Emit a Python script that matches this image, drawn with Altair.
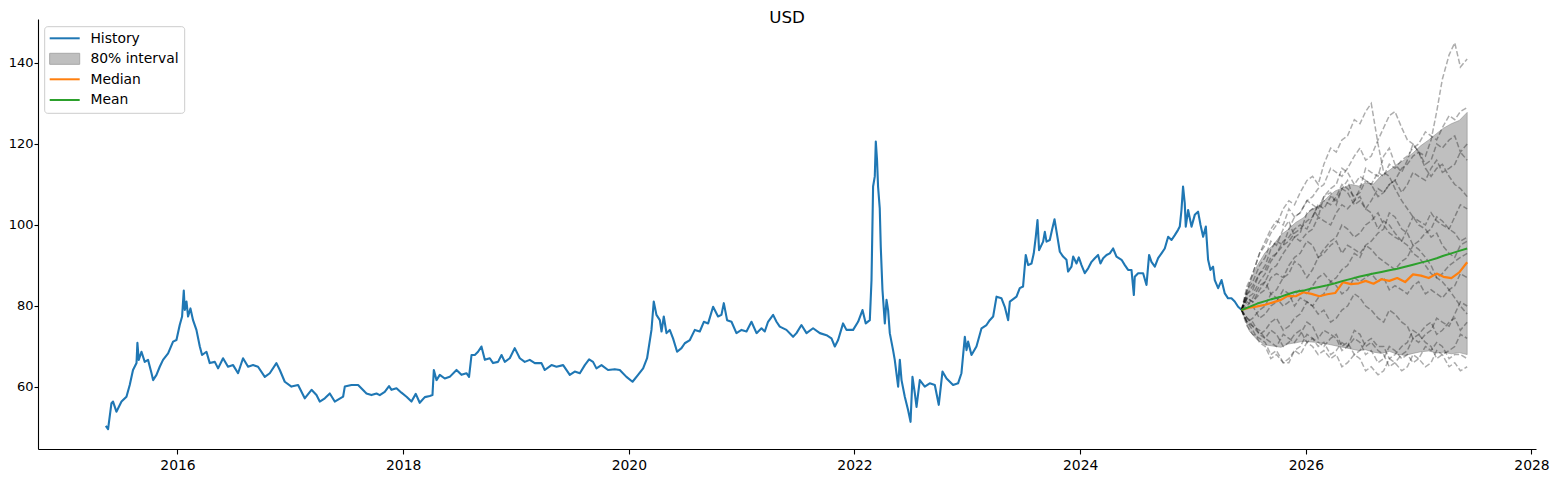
import altair as alt
import pandas as pd

# ---------------- data ----------------
hist_2015 = [(2015.365, 50.4), (2015.385, 49.6), (2015.415, 56.0), (2015.429, 56.4), (2015.459, 53.9),
             (2015.504, 56.4), (2015.548, 57.6), (2015.577, 60.5), (2015.606, 64.2), (2015.637, 65.9),
             (2015.645, 70.9), (2015.657, 66.7), (2015.681, 68.7), (2015.710, 66.2), (2015.739, 66.7),
             (2015.770, 63.4), (2015.784, 61.7), (2015.814, 63.0), (2015.843, 65.0), (2015.872, 66.7),
             (2015.917, 68.3), (2015.961, 71.2), (2015.991, 71.6)]
hist_2016 = [(2016.020, 75.3), (2016.041, 77.4), (2016.056, 83.8), (2016.065, 79.0), (2016.080, 81.1),
             (2016.094, 77.4), (2016.115, 79.4), (2016.138, 76.5), (2016.168, 74.1), (2016.198, 70.0),
             (2016.218, 67.9), (2016.257, 68.7), (2016.286, 65.9), (2016.331, 66.2), (2016.360, 64.6),
             (2016.404, 67.1), (2016.448, 65.0), (2016.493, 65.4), (2016.537, 63.4), (2016.581, 67.1),
             (2016.626, 65.0), (2016.670, 65.4), (2016.714, 65.0), (2016.774, 62.5), (2016.818, 63.4),
             (2016.877, 65.9), (2016.907, 64.2), (2016.951, 61.3)]
hist_2017 = [(2017.010, 60.1), (2017.069, 60.5), (2017.128, 57.2), (2017.188, 59.3), (2017.232, 58.0),
             (2017.261, 56.4), (2017.306, 57.2), (2017.350, 58.4), (2017.394, 56.4), (2017.468, 57.6),
             (2017.483, 60.1), (2017.542, 60.5), (2017.601, 60.5), (2017.660, 58.8), (2017.675, 58.4),
             (2017.719, 58.0), (2017.764, 58.4), (2017.793, 58.0), (2017.837, 58.8), (2017.875, 60.2),
             (2017.897, 59.3), (2017.941, 59.7), (2017.985, 58.6)]
hist_2018 = [(2018.030, 57.6), (2018.074, 56.4), (2018.112, 58.3), (2018.147, 56.1), (2018.192, 57.5),
             (2018.236, 57.8), (2018.260, 58.0), (2018.272, 64.2), (2018.296, 61.7), (2018.325, 63.0),
             (2018.369, 62.1), (2018.413, 62.5), (2018.473, 64.2), (2018.517, 63.0), (2018.561, 63.4),
             (2018.584, 62.5), (2018.606, 67.9), (2018.635, 67.9), (2018.664, 68.7), (2018.694, 70.0),
             (2018.724, 66.7), (2018.768, 67.1), (2018.797, 65.9), (2018.841, 66.2), (2018.872, 67.9),
             (2018.901, 66.2), (2018.945, 67.1), (2018.989, 69.6)]
hist_2019 = [(2019.034, 67.1), (2019.078, 66.2), (2019.122, 66.7), (2019.167, 65.9), (2019.226, 65.9),
             (2019.255, 64.2), (2019.315, 65.4), (2019.359, 65.0), (2019.418, 65.4), (2019.477, 63.0),
             (2019.521, 63.8), (2019.566, 63.4), (2019.610, 65.4), (2019.648, 66.8), (2019.683, 66.2),
             (2019.713, 64.6), (2019.758, 65.4), (2019.816, 64.2), (2019.876, 64.4), (2019.920, 64.2),
             (2019.979, 62.5)]
hist_2020 = [(2020.033, 61.3), (2020.082, 63.0), (2020.127, 64.6), (2020.162, 67.1), (2020.201, 74.1),
             (2020.221, 81.1), (2020.245, 77.8), (2020.275, 76.5), (2020.290, 73.7), (2020.310, 77.4),
             (2020.334, 73.3), (2020.363, 74.1), (2020.392, 72.0), (2020.428, 68.7), (2020.467, 69.6),
             (2020.496, 70.8), (2020.541, 71.6), (2020.585, 74.1), (2020.629, 73.7), (2020.665, 76.1),
             (2020.703, 75.7), (2020.747, 79.8), (2020.791, 77.4), (2020.821, 77.8), (2020.842, 80.7),
             (2020.871, 76.5), (2020.910, 76.1), (2020.954, 73.3)]
hist_2021 = [(2020.999, 74.1), (2021.043, 73.7), (2021.087, 76.1), (2021.132, 73.3), (2021.176, 74.5),
             (2021.205, 73.7), (2021.234, 76.1), (2021.279, 77.8), (2021.309, 76.1), (2021.338, 74.9),
             (2021.397, 74.1), (2021.456, 72.4), (2021.486, 73.3), (2021.530, 75.3), (2021.575, 73.3),
             (2021.633, 74.5), (2021.693, 73.3), (2021.752, 72.8), (2021.796, 72.0), (2021.826, 70.0),
             (2021.855, 71.6), (2021.899, 75.7), (2021.929, 74.1), (2021.988, 74.1)]
hist_2022 = [(2022.032, 76.1), (2022.071, 79.0), (2022.100, 75.7), (2022.136, 76.5), (2022.151, 86.4),
             (2022.165, 109.5), (2022.180, 112.0), (2022.189, 120.6), (2022.200, 116.0), (2022.209, 109.5),
             (2022.224, 104.1), (2022.233, 94.6), (2022.248, 84.0), (2022.269, 75.7), (2022.284, 81.5),
             (2022.298, 79.0), (2022.313, 73.3), (2022.342, 69.1), (2022.357, 66.7), (2022.387, 60.1),
             (2022.402, 66.7), (2022.417, 61.7), (2022.446, 57.6), (2022.475, 54.3), (2022.497, 51.4),
             (2022.514, 62.5), (2022.535, 58.4), (2022.550, 55.1), (2022.579, 61.7), (2022.623, 60.1),
             (2022.667, 60.9), (2022.712, 60.5), (2022.747, 55.6), (2022.780, 63.8), (2022.816, 62.1),
             (2022.874, 60.5), (2022.918, 60.9), (2022.948, 63.4), (2022.978, 72.4), (2022.993, 69.1)]
hist_2023 = [(2023.007, 71.2), (2023.037, 67.9), (2023.081, 70.0), (2023.126, 74.5), (2023.170, 75.3),
             (2023.199, 76.5), (2023.229, 77.4), (2023.259, 82.3), (2023.303, 81.9), (2023.332, 79.8),
             (2023.362, 76.5), (2023.377, 81.1), (2023.436, 82.3), (2023.465, 84.4), (2023.494, 84.8),
             (2023.518, 92.6), (2023.539, 90.1), (2023.569, 90.5), (2023.589, 93.0), (2023.607, 97.1),
             (2023.622, 101.2), (2023.636, 93.8), (2023.672, 95.9), (2023.687, 98.3), (2023.702, 95.9),
             (2023.731, 96.3), (2023.751, 98.8), (2023.773, 101.4), (2023.796, 97.5), (2023.820, 93.4),
             (2023.849, 92.2), (2023.879, 91.4), (2023.893, 88.5), (2023.923, 89.7), (2023.938, 92.2),
             (2023.968, 90.5), (2023.988, 92.0)]
hist_2024 = [(2024.012, 90.1), (2024.041, 88.1), (2024.071, 89.3), (2024.101, 90.9), (2024.130, 91.8),
             (2024.159, 92.6), (2024.180, 90.5), (2024.204, 91.8), (2024.234, 92.6), (2024.263, 93.0),
             (2024.292, 94.2), (2024.322, 92.2), (2024.367, 91.4), (2024.396, 90.1), (2024.425, 88.9),
             (2024.455, 88.9), (2024.476, 82.7), (2024.484, 87.2), (2024.514, 88.1), (2024.558, 88.1),
             (2024.588, 85.2), (2024.611, 92.6), (2024.632, 90.9), (2024.662, 89.7), (2024.691, 91.8),
             (2024.721, 93.0), (2024.750, 94.2), (2024.780, 97.1), (2024.810, 96.3), (2024.839, 97.5),
             (2024.868, 98.8), (2024.883, 99.6), (2024.898, 103.7), (2024.912, 109.5), (2024.927, 105.4),
             (2024.936, 99.6), (2024.957, 103.7), (2024.987, 99.6)]
hist_2025 = [(2025.016, 102.5), (2025.045, 103.3), (2025.067, 100.0), (2025.090, 97.1), (2025.114, 99.6),
             (2025.134, 91.4), (2025.155, 88.9), (2025.178, 89.7), (2025.193, 86.4), (2025.223, 84.4),
             (2025.253, 86.4), (2025.282, 83.1), (2025.311, 81.9), (2025.341, 81.9), (2025.370, 81.1),
             (2025.400, 79.8), (2025.433, 79.0)]

# forecast summary (80% band, median, mean)
fc_t = [2025.43, 2025.50, 2025.57, 2025.64, 2025.71, 2025.78, 2025.84, 2025.91, 2025.98, 2026.05,
        2026.12, 2026.19, 2026.26, 2026.33, 2026.40, 2026.47, 2026.53, 2026.60, 2026.67, 2026.74,
        2026.81, 2026.88, 2026.95, 2027.02, 2027.09, 2027.16, 2027.22, 2027.29, 2027.36, 2027.43]
band_hi = [79.0, 85.5, 90.0, 93.2, 95.0, 97.6, 98.8, 100.6, 101.8, 103.9,
           104.6, 106.8, 108.4, 109.2, 110.0, 109.6, 110.4, 110.1, 112.2, 113.5,
           115.0, 116.2, 117.8, 119.6, 121.0, 122.6, 123.9, 125.0, 125.8, 127.8]
band_lo = [79.0, 73.8, 71.6, 70.4, 70.1, 69.8, 70.6, 70.9, 71.3, 71.1,
           71.0, 70.6, 70.2, 69.8, 69.4, 69.0, 69.2, 68.6, 68.3, 68.8,
           68.1, 67.8, 68.3, 68.7, 68.9, 68.4, 68.6, 68.2, 68.5, 68.0]
fc_median = [79.0, 79.6, 79.9, 80.3, 80.9, 81.5, 82.5, 82.4, 83.4, 83.0,
             82.4, 82.9, 83.2, 85.9, 85.4, 85.6, 86.2, 85.5, 86.6, 86.2,
             86.9, 85.9, 87.8, 87.5, 86.9, 88.0, 87.2, 86.9, 88.3, 90.8]
fc_mean = [79.0, 79.8, 80.6, 81.2, 81.8, 82.3, 82.9, 83.5, 83.8, 84.3,
           84.7, 85.1, 85.6, 86.2, 86.7, 87.2, 87.6, 88.0, 88.4, 88.8,
           89.2, 89.7, 90.2, 90.7, 91.2, 91.8, 92.4, 93.0, 93.6, 94.2]

# simulated sample paths (dashed)
path_t = [2025.43, 2025.48, 2025.53, 2025.59, 2025.64, 2025.69, 2025.74, 2025.80, 2025.85, 2025.90,
          2025.95, 2026.01, 2026.06, 2026.11, 2026.16, 2026.22, 2026.27, 2026.32, 2026.37, 2026.43,
          2026.48, 2026.53, 2026.58, 2026.64, 2026.69, 2026.74, 2026.79, 2026.85, 2026.90, 2026.95,
          2027.00, 2027.06, 2027.11, 2027.16, 2027.21, 2027.27, 2027.32, 2027.37, 2027.43]
path_01 = [79, 84, 86, 90, 92, 96, 95, 99, 101, 97, 98, 103, 104, 102, 107, 108, 105, 109, 111, 106,
           109, 114, 113, 112, 117, 119, 115, 113, 116, 120, 118, 117, 121, 128, 136, 142, 145, 139, 141]
path_02 = [79, 85, 88, 93, 95, 98, 100, 104, 106, 105, 108, 111, 112, 110, 115, 119, 118, 121, 122, 126,
           125, 128, 130, 120, 113, 112, 109, 106, 104, 102, 100, 99, 97, 98, 95, 93, 92, 95, 96]
path_03 = [79, 83, 84, 88, 90, 94, 96, 95, 99, 102, 103, 106, 107, 109, 110, 114, 113, 112, 114, 117,
           119, 116, 117, 121, 124, 127, 128, 124, 121, 120, 118, 114, 112, 114, 115, 112, 110, 109, 107]
path_04 = [79, 82, 83, 86, 88, 91, 93, 96, 97, 99, 100, 99, 102, 105, 106, 105, 107, 110, 109, 107,
           108, 111, 110, 113, 112, 115, 114, 116, 117, 119, 120, 123, 122, 121, 124, 127, 126, 128, 129]
path_05 = [79, 80, 82, 85, 86, 89, 90, 93, 95, 97, 96, 98, 99, 102, 101, 100, 103, 105, 104, 106,
           107, 104, 106, 109, 108, 110, 111, 108, 110, 113, 112, 111, 114, 116, 113, 114, 115, 118, 116]
path_06 = [79, 82, 81, 83, 84, 87, 88, 87, 90, 92, 93, 96, 95, 92, 94, 96, 97, 100, 99, 97,
           98, 100, 101, 103, 100, 98, 97, 96, 99, 102, 101, 100, 103, 101, 100, 99, 102, 105, 104]
path_07 = [79, 76, 77, 79, 80, 83, 82, 80, 81, 83, 84, 83, 85, 87, 88, 86, 87, 89, 90, 93,
           92, 95, 94, 92, 91, 90, 89, 91, 92, 95, 94, 92, 90, 87, 88, 90, 91, 92, 93]
path_08 = [79, 81, 80, 77, 78, 80, 81, 84, 83, 80, 82, 81, 80, 82, 83, 86, 85, 83, 84, 87,
           86, 87, 88, 86, 87, 84, 85, 84, 83, 85, 86, 83, 84, 83, 82, 84, 85, 88, 87]
path_09 = [79, 77, 76, 73, 74, 76, 77, 74, 75, 77, 78, 81, 80, 78, 79, 76, 77, 79, 80, 83,
           82, 80, 79, 77, 76, 79, 78, 76, 75, 72, 73, 75, 76, 73, 74, 76, 77, 74, 76]
path_10 = [79, 77, 75, 73, 72, 74, 73, 70, 71, 73, 74, 71, 72, 71, 70, 72, 73, 70, 71, 68,
           69, 71, 72, 70, 70, 67, 68, 70, 71, 74, 73, 71, 70, 67, 68, 69, 70, 73, 72]
path_11 = [79, 76, 74, 71, 70, 67, 68, 66, 66, 69, 68, 71, 70, 68, 69, 67, 68, 65, 66, 68,
           67, 64, 65, 63, 64, 67, 66, 64, 65, 68, 67, 65, 66, 69, 68, 65, 66, 64, 65]
path_12 = [79, 75, 73, 72, 71, 68, 69, 66, 67, 69, 70, 73, 72, 70, 71, 68, 69, 71, 70, 74,
           73, 70, 71, 69, 68, 65, 66, 68, 69, 72, 71, 73, 74, 77, 76, 75, 78, 81, 80]
path_13 = [79, 83, 85, 88, 89, 92, 93, 95, 96, 98, 99, 101, 102, 105, 104, 107, 106, 109, 108, 105,
           106, 104, 103, 99, 101, 100, 98, 96, 95, 93, 92, 90, 88, 87, 86, 84, 82, 80, 78]
path_14 = [79, 82, 81, 84, 86, 83, 84, 87, 88, 91, 90, 87, 89, 92, 93, 95, 96, 93, 95, 94,
           93, 95, 96, 98, 99, 103, 102, 99, 98, 95, 96, 98, 99, 102, 101, 99, 98, 96, 97]
path_15 = [79, 84, 88, 93, 96, 99, 101, 100, 104, 102, 103, 106, 105, 104, 107, 109, 110, 114, 113, 110,
           112, 111, 110, 107, 108, 110, 111, 114, 115, 117, 118, 115, 116, 120, 119, 121, 122, 118, 120]
path_16 = [79, 76, 75, 74, 72, 71, 70, 73, 72, 71, 73, 76, 75, 72, 74, 73, 72, 69, 70, 72,
           71, 68, 69, 66, 67, 70, 69, 67, 68, 66, 67, 70, 69, 71, 70, 67, 68, 68, 67]

x_ticks = [2016, 2018, 2020, 2022, 2024, 2026, 2028]
y_ticks = [60, 80, 100, 120, 140]
legend_labels = ["History", "80% interval", "Median", "Mean"]
title_text = "USD"

X_DOMAIN = [2014.764, 2028.04]
Y_DOMAIN = [44.69, 150.86]

# ---------------- tables ----------------
hist_pts = (hist_2015 + hist_2016 + hist_2017 + hist_2018 + hist_2019 + hist_2020 +
            hist_2021 + hist_2022 + hist_2023 + hist_2024 + hist_2025)
hist_df = pd.DataFrame(hist_pts, columns=["t", "v"])
fc_df = pd.DataFrame({"t": fc_t, "lo": band_lo, "hi": band_hi, "median": fc_median, "mean": fc_mean})
paths = [path_01, path_02, path_03, path_04, path_05, path_06, path_07, path_08,
         path_09, path_10, path_11, path_12, path_13, path_14, path_15, path_16]
path_df = pd.DataFrame([{"t": t, "v": v, "path": i}
                        for i, p in enumerate(paths) for t, v in zip(path_t, p)])
one = pd.DataFrame({"k": [0]})

FONT = "DejaVu Sans"
BLUE, ORANGE, GREEN = "#1f77b4", "#ff7f0e", "#2ca02c"

xs = alt.Scale(domain=X_DOMAIN, nice=False, zero=False)
ys = alt.Scale(domain=Y_DOMAIN, nice=False, zero=False)
x_axis = alt.Axis(values=x_ticks, format="d", title=None, grid=False, labelFlush=False,
                  labelFontSize=13.9, tickSize=5, labelPadding=4)
y_axis = alt.Axis(values=y_ticks, format="d", title=None, grid=False,
                  labelFontSize=13, tickSize=4, labelPadding=1)


def X(field):
    return alt.X(field, type="quantitative", scale=xs, axis=x_axis)


def Y(field):
    return alt.Y(field, type="quantitative", scale=ys, axis=y_axis)


history = alt.Chart(hist_df).mark_line(color=BLUE, strokeWidth=2.1, strokeJoin="round").encode(
    x=X("t"), y=Y("v"))

band = alt.Chart(fc_df).mark_area(
    fill="#808080", fillOpacity=0.5, stroke="#808080", strokeOpacity=0.5, strokeWidth=1
).encode(x=X("t"), y=Y("lo"), y2="hi")

sample_paths = alt.Chart(path_df).mark_line(
    color="black", opacity=0.32, strokeWidth=1.5, strokeDash=[5.5, 2.4]
).encode(x=X("t"), y=Y("v"), detail="path:N")

median = alt.Chart(fc_df).mark_line(color=ORANGE, strokeWidth=2.2, strokeJoin="round").encode(
    x=X("t"), y=Y("median"))
mean = alt.Chart(fc_df).mark_line(color=GREEN, strokeWidth=2, strokeJoin="round").encode(
    x=X("t"), y=Y("mean"))

# ---------------- legend (drawn by hand, matplotlib style) ----------------
leg_box = alt.Chart(one).mark_rect(
    fill="white", fillOpacity=0.8, stroke="#cccccc", strokeWidth=1, cornerRadius=3
).encode(x=alt.value(6.7), x2=alt.value(146.7), y=alt.value(7.7), y2=alt.value(94.3))
leg_hist = alt.Chart(one).mark_rule(color=BLUE, strokeWidth=2).encode(
    x=alt.value(11.7), x2=alt.value(41.7), y=alt.value(19.3))
leg_band = alt.Chart(one).mark_rect(fill="#bfbfbf", stroke="#a8a8a8", strokeWidth=1).encode(
    x=alt.value(11.7), x2=alt.value(41.7), y=alt.value(34.3), y2=alt.value(45.3))
leg_med = alt.Chart(one).mark_rule(color=ORANGE, strokeWidth=2).encode(
    x=alt.value(11.7), x2=alt.value(41.7), y=alt.value(60.3))
leg_mean = alt.Chart(one).mark_rule(color=GREEN, strokeWidth=2).encode(
    x=alt.value(11.7), x2=alt.value(41.7), y=alt.value(81.0))

leg_texts = []
for label, ypos in zip(legend_labels, [19.5, 40.0, 60.6, 81.3]):
    leg_texts.append(
        alt.Chart(one).mark_text(
            text=label, font=FONT, fontSize=13.9, color="black", align="left", baseline="middle"
        ).encode(x=alt.value(52.4), y=alt.value(ypos))
    )

title = alt.Chart(one).mark_text(
    text=title_text, font=FONT, fontSize=16.7, color="black", align="center", baseline="alphabetic"
).encode(x=alt.value(749), y=alt.value(3.5))

chart = alt.layer(
    history, band, sample_paths, median, mean,
    leg_box, leg_hist, leg_band, leg_med, leg_mean, *leg_texts, title
).properties(
    width=1498, height=430,
    padding={"left": 30, "top": 11, "right": 16, "bottom": 30},
    autosize=alt.AutoSizeParams(type="none"),
    background="white",
).configure_axis(
    domainColor="black", tickColor="black", labelColor="black",
    labelFont=FONT, domainWidth=1.1, tickWidth=1.1,
).configure_view(strokeWidth=0)

chart.save("out.html", embed_options={"renderer": "svg", "actions": False})
